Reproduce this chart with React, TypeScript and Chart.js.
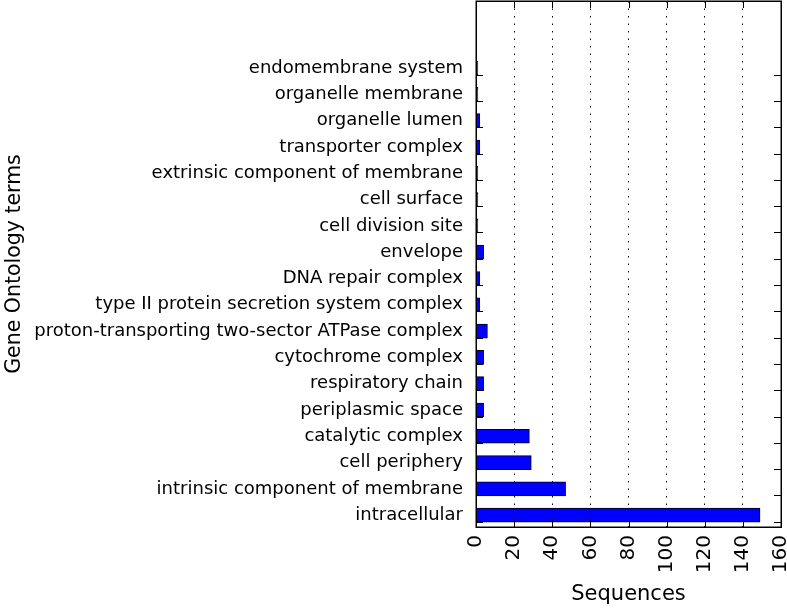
import React, { useEffect, useRef } from 'react';
import { Chart, registerables } from 'chart.js';

Chart.register(...registerables);

// Categories listed top to bottom as in the figure
const categories = [
  'endomembrane system',
  'organelle membrane',
  'organelle lumen',
  'transporter complex',
  'extrinsic component of membrane',
  'cell surface',
  'cell division site',
  'envelope',
  'DNA repair complex',
  'type II protein secretion system complex',
  'proton-transporting two-sector ATPase complex',
  'cytochrome complex',
  'respiratory chain',
  'periplasmic space',
  'catalytic complex',
  'cell periphery',
  'intrinsic component of membrane',
  'intracellular',
];
const sequences = [1, 1, 2, 2, 1, 1, 1, 4, 2, 2, 6, 4, 4, 4, 28, 29, 47, 149];
const xTickValues = [0, 20, 40, 60, 80, 100, 120, 140, 160];
const xTitle = 'Sequences';
const yTitle = 'Gene Ontology terms';

const FONT = "'DejaVu Sans', 'Liberation Sans', sans-serif";
const N = categories.length;
const BAR_OFFSET = 0.25;

const frameTicksPlugin = {
  id: 'frameTicks',
  afterDraw(chart: any) {
    const { ctx, chartArea, scales } = chart;
    const { left, right, top, bottom } = chartArea;
    const xs = scales.x;
    const ys = scales.y;
    const L = 7;
    ctx.save();
    ctx.strokeStyle = '#000';
    ctx.lineWidth = 1;
    xTickValues.forEach((v) => {
      if (v === xTickValues[0] || v === xTickValues[xTickValues.length - 1]) return;
      const px = Math.round(xs.getPixelForValue(v)) + 0.5;
      ctx.beginPath();
      ctx.moveTo(px, bottom);
      ctx.lineTo(px, bottom - L);
      ctx.moveTo(px, top);
      ctx.lineTo(px, top + L);
      ctx.stroke();
    });
    for (let i = 0; i < N; i++) {
      const py = Math.round(ys.getPixelForValue(i)) + 0.5;
      ctx.beginPath();
      ctx.moveTo(left, py);
      ctx.lineTo(left + L, py);
      ctx.moveTo(right, py);
      ctx.lineTo(right - L, py);
      ctx.stroke();
    }
    ctx.lineWidth = 1.5;
    ctx.strokeRect(Math.round(left) + 0.25, Math.round(top) + 0.25, Math.round(right - left), Math.round(bottom - top));
    ctx.restore();
  },
};

const zeroPad = (s: any) => {
  s.paddingTop = 0;
  s.paddingBottom = 0;
  s.paddingLeft = 0;
  s.paddingRight = 0;
};

export default function App() {
  const ref = useRef<HTMLCanvasElement | null>(null);

  useEffect(() => {
    if (!ref.current) return;
    const data = categories.map((_, i) => ({ x: sequences[i], y: N - 1 - i + BAR_OFFSET }));
    const chart = new Chart(ref.current, {
      type: 'bar',
      data: {
        datasets: [
          {
            data: data as any,
            backgroundColor: '#0000ff',
            borderColor: '#000000',
            borderWidth: 1,
            barThickness: 14,
            borderSkipped: false,
          } as any,
        ],
      },
      plugins: [frameTicksPlugin],
      options: {
        indexAxis: 'y',
        animation: false,
        responsive: false,
        devicePixelRatio: 1,
        layout: { padding: { top: 1, right: 6, left: 0, bottom: 0 } },
        plugins: {
          legend: { display: false },
          tooltip: { enabled: false },
        },
        scales: {
          x: {
            type: 'linear',
            min: 0,
            max: 160,
            afterFit: (s: any) => {
              s.height = 81;
              zeroPad(s);
            },
            afterBuildTicks: (s: any) => {
              s.ticks = xTickValues.map((v) => ({ value: v }));
            },
            ticks: {
              autoSkip: false,
              maxRotation: 90,
              minRotation: 90,
              padding: 8,
              color: '#000',
              font: { family: FONT, size: 20 },
            },
            grid: {
              drawTicks: false,
              lineWidth: 1,
              color: (c: any) =>
                c.tick && (c.tick.value === 0 || c.tick.value === 160) ? 'rgba(0,0,0,0)' : '#000',
            },
            border: { display: false, dash: [1.5, 6] },
            title: {
              display: true,
              text: xTitle,
              color: '#000',
              font: { family: FONT, size: 21 },
              padding: { top: 0, bottom: 1 },
            },
          },
          y: {
            type: 'linear',
            offset: false,
            min: -0.2,
            max: 19.8,
            afterFit: (s: any) => {
              s.width = 476;
              zeroPad(s);
            },
            afterBuildTicks: (s: any) => {
              const t = [];
              for (let k = 0; k < N; k++) t.push({ value: k + BAR_OFFSET });
              s.ticks = t;
            },
            ticks: {
              autoSkip: false,
              padding: 13,
              color: '#000',
              font: { family: FONT, size: 18 },
              callback: (v: any) => categories[N - 1 - Math.round(Number(v) - BAR_OFFSET)],
            },
            grid: { display: false, drawTicks: false },
            border: { display: false },
            title: {
              display: true,
              text: yTitle,
              color: '#000',
              font: { family: FONT, size: 20.5 },
              padding: { top: 2, bottom: 0 },
            },
          },
        },
      } as any,
    });
    return () => chart.destroy();
  }, []);

  return (
    <div style={{ position: 'absolute', left: 0, top: 0, width: 787, height: 608, background: '#fff' }}>
      <canvas ref={ref} width={787} height={608} style={{ display: 'block', width: 787, height: 608 }} />
    </div>
  );
}
